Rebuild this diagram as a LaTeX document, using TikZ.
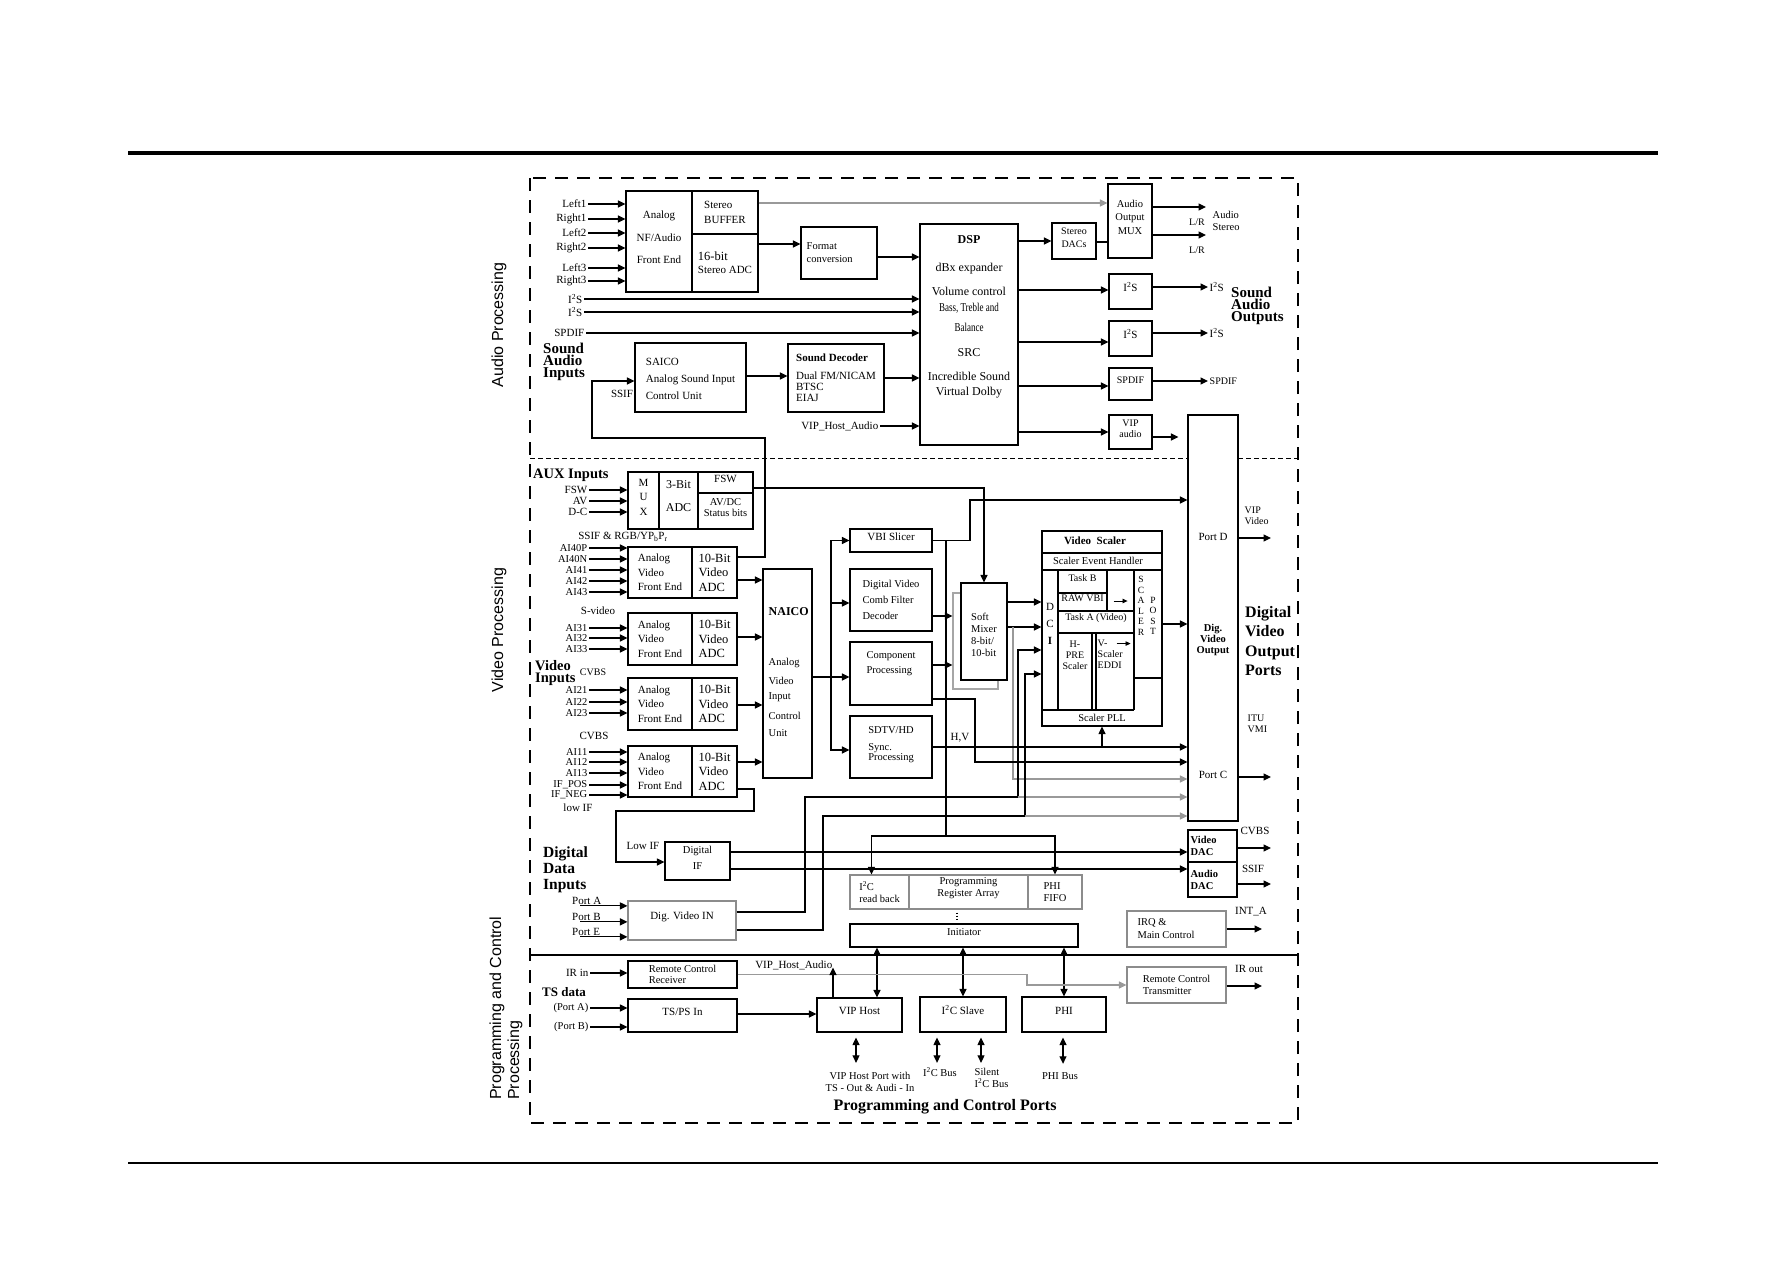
\documentclass[tikz,border=0pt]{standalone}
\usepackage{fontspec}
\setmainfont{Liberation Serif}
\newfontfamily\sansf{Liberation Sans}
\usepackage{graphicx}
\usetikzlibrary{arrows.meta,positioning,fit,calc}
\newcommand{\fz}[2]{\fontsize{#1}{#2}\selectfont}

\begin{document}
\begin{tikzpicture}[x=1pt, y=-1pt,
        box/.style={rectangle, draw=black, line width=1.1pt, inner sep=0pt, align=center, font=\fz{11}{13}},
        gbox/.style={box, draw=black!45},
        lbl/.style={inner sep=1.5pt, align=center, font=\fz{11}{12}},
        txt/.style={inner sep=0pt, align=left, font=\fz{11}{13}},
        boldlbl/.style={inner sep=0pt, align=left, font=\bfseries\fz{15}{12}},
        sidelbl/.style={inner sep=0pt, rotate=90, align=left, font=\sansf\fz{16}{18}},
        wire/.style={line width=1.1pt},
        arrow/.style={wire, -{Triangle[length=7.5pt, width=7pt]}},
        garrow/.style={arrow, draw=black!40},
        sarrow/.style={line width=0.8pt, -{Triangle[length=5pt, width=4.5pt]}},
        darrow/.style={wire, {Triangle[length=7.5pt, width=7pt]}-{Triangle[length=7.5pt, width=7pt]}}
    ]
    \useasboundingbox (0,0) rectangle (1787,1263);

    % Page rules and frame
    \draw[line width=3.4pt] (128,153) -- (1658,153);
    \draw[line width=1.2pt] (128,1163) -- (1658,1163);
    \draw[line width=1.2pt, dash pattern=on 13pt off 9pt] (530,178) rectangle (1298,1123);
    \draw[line width=1pt, dash pattern=on 5pt off 3pt] (530,458) -- (1188,458);
    \draw[line width=1pt, dash pattern=on 5pt off 3pt] (1238,458) -- (1298,458);
    \draw[wire] (530,955) -- (1298,955);

    % Section titles
    \node[sidelbl] (sideaudio) at (499,325) {Audio Processing};
    \node[sidelbl] (sidevideo) at (499,630) {Video Processing};
    \node[sidelbl, anchor=west] (sideprog) at (506,1100) {Programming and Control\\Processing};

    % ---------------- Audio ----------------
    \node[box, fit={(626,191) (692,292)}] (anf) {Analog\\[9.5pt]NF/Audio\\[9.5pt]Front End};
    \node[box, fit={(692,191) (758,234)}] (buf) {};
    \node[txt, font=\fz{11}{15}] (buftxt) at (buf.center) {Stereo\\BUFFER};
    \node[box, fit={(692,234) (758,292)}] (sadc) {};
    \node[txt] (sadctxt) at (sadc.center) {{\fz{12.5}{13}16-bit}\\Stereo ADC};
    \node[box, fit={(801,227) (877,279)}] (fmt) {};
    \node[txt, anchor=west, font=\fz{10.5}{13}] (fmttxt) at ([xshift=6]fmt.west) {Format\\conversion};
    \node[box, fit={(920,224) (1018,445)}] (dsp) {};
    \foreach \yy/\txt in {240/{\bfseries DSP}, 269/{dBx expander}, 291/{Volume control},
        308/{\scalebox{0.75}[1]{Bass, Treble and}}, 327/{\scalebox{0.75}[1]{Balance}},
        353/SRC, 376/{Incredible Sound}, 393/{Virtual Dolby}}
        \node[lbl, font=\fz{12}{13}] (dsp\yy) at (969,\yy) {\txt};
    \node[box, fit={(635,343) (746,412)}] (sai) {};
    \node[txt, font=\fz{11}{17}] (saitxt) at ([yshift=-1]sai.center) {SAICO\\Analog Sound Input\\Control Unit};
    \node[box, fit={(788,344) (884,412)}] (sdec) {};
    \node[txt, font=\fz{11}{11}] (sdectxt) at (sdec.center) {\textbf{Sound Decoder}\\[7pt]Dual FM/NICAM\\BTSC\\EIAJ};
    \node[boldlbl, anchor=west] (sndin) at (543,362) {Sound\\Audio\\Inputs};
    \node[lbl] (ssif) at (622,394) {SSIF};

    % audio inputs
    \foreach \nm/\yy/\txt in {la/204/Left1, ra/219/Right1, lb/233/Left2, rb/248/Right2, lc/268/Left3, rc/281/Right3}{
        \node[lbl, anchor=east] (\nm) at (588,\yy) {\txt};
        \draw[arrow] (\nm.east) -- (anf.west |- \nm.east);
    }
    \node[lbl, anchor=east] (i2sina) at (584,299) {I\textsuperscript{2}S};
    \node[lbl, anchor=east] (i2sinb) at (584,312) {I\textsuperscript{2}S};
    \node[lbl, anchor=east] (spdin) at (586,333) {SPDIF};
    \draw[arrow] (i2sina.east |- 0,299) -- (dsp.west |- 0,299);
    \draw[arrow] (i2sinb.east |- 0,312) -- (dsp.west |- 0,312);
    \draw[arrow] (spdin.east) -- (dsp.west |- spdin.east);

    \draw[arrow] (sadc.east |- 0,244) -- (fmt.west |- 0,244);
    \draw[arrow] (fmt.east |- 0,257) -- (dsp.west |- 0,257);
    \draw[arrow] (sai.east |- 0,376) -- (sdec.west |- 0,376);
    \draw[arrow] (sdec.east |- 0,378) -- (dsp.west |- 0,378);
    \node[lbl, anchor=east] (vhaud) at (880,426) {VIP\_Host\_Audio};
    \draw[arrow] (vhaud.east) -- (dsp.west |- vhaud.east);

    % audio outputs
    \node[box, fit={(1052,223) (1096,259)}, font=\fz{10}{13}] (sdac) {Stereo\\DACs};
    \node[box, fit={(1108,184) (1152,258)}, font=\fz{10.5}{13.5}] (mux) {Audio\\Output\\MUX};
    \node[box, fit={(1109,274) (1152,309)}] (i2sa) {I\textsuperscript{2}S};
    \node[box, fit={(1109,321) (1152,356)}] (i2sb) {I\textsuperscript{2}S};
    \node[box, fit={(1109,368) (1152,400)}, font=\fz{10}{12}] (spdo) {SPDIF};
    \node[box, fit={(1109,415) (1152,449)}, font=\fz{10}{10.5}] (vipa) {VIP\\audio};
    \node[box, fit={(1188,415) (1238,821)}] (dvo) {};
    \node[lbl] (portd) at (1213,537) {Port D};
    \node[lbl, font=\bfseries\fz{10.5}{11}] (dvotxt) at (1213,640) {Dig.\\Video\\Output};
    \node[lbl] (portc) at (1213,775) {Port C};

    \draw[garrow] (buf.east |- 0,203) -- (mux.west |- 0,203);
    \draw[arrow] (dsp.east |- 0,241) -- (sdac.west |- 0,241);
    \draw[wire] (sdac.east |- 0,242) -- (mux.west |- 0,242);
    \draw[arrow] (dsp.east |- 0,290) -- (i2sa.west |- 0,290);
    \draw[arrow] (dsp.east |- 0,342) -- (i2sb.west |- 0,342);
    \draw[arrow] (dsp.east |- 0,386) -- (spdo.west |- 0,386);
    \draw[arrow] (dsp.east |- 0,432) -- (vipa.west |- 0,432);
    \draw[arrow, shorten >=9pt] (vipa.east |- 0,437) -- (dvo.west |- 0,437);

    \coordinate (lra) at (1206,207);
    \coordinate (lrb) at (1206,235);
    \draw[arrow] (mux.east |- lra) -- (lra);
    \draw[arrow] (mux.east |- lrb) -- (lrb);
    \node[lbl, font=\fz{10}{11}] (lrla) at (1197,222) {L/R};
    \node[lbl, font=\fz{10}{11}] (lrlb) at (1197,250) {L/R};
    \node[lbl, anchor=west, align=left, font=\fz{10.5}{11.5}] (astereo) at (1211,221) {Audio\\Stereo};
    \node[lbl, anchor=west] (i2soa) at (1208,287) {I\textsuperscript{2}S};
    \node[lbl, anchor=west] (i2sob) at (1208,333) {I\textsuperscript{2}S};
    \node[lbl, anchor=west, font=\fz{10}{11}] (spdout) at (1208,381) {SPDIF};
    \draw[arrow] (i2sa.east |- 0,287) -- (i2soa.west |- 0,287);
    \draw[arrow] (i2sb.east |- 0,333) -- (i2sob.west |- 0,333);
    \draw[arrow] (spdo.east |- spdout.west) -- (spdout.west);
    \node[boldlbl, anchor=west] (sndout) at (1231,306) {Sound\\Audio\\Outputs};

    % ---------------- Video ----------------
    \node[boldlbl, anchor=west, font=\bfseries\fz{14.5}{14}] (auxin) at (533,475) {AUX Inputs};
    \node[box, fit={(628,472) (659,529)}, font=\fz{11}{14.5}] (muxm) {M\\U\\X};
    \node[box, fit={(659,472) (698,529)}, font=\fz{12}{13}] (adc3) {3-Bit\\[10pt]ADC};
    \node[box, fit={(698,472) (753,493)}] (fsw) {FSW};
    \node[box, fit={(698,493) (753,529)}, font=\fz{10.5}{11.5}] (avdc) {AV/DC\\Status bits};
    \foreach \nm/\yy/\txt in {auxa/490/FSW, auxb/501/AV, auxc/512/D-C}{
        \node[lbl, anchor=east] (\nm) at (589,\yy) {\txt};
        \draw[arrow] (\nm.east) -- (muxm.west |- \nm.east);
    }
    \node[lbl] (rgb) at (623,537) {SSIF \& RGB/YP\textsubscript{b}P\textsubscript{r}};

    % video front ends
    \foreach \i/\ya/\yb in {1/547/598, 2/613/665, 3/678/730, 4/746/797}{
        \node[box, fit={(628,\ya) (692,\yb)}] (vfe\i) {};
        \node[txt, font=\fz{11}{14.5}] (vfet\i) at (vfe\i.center) {Analog\\Video\\Front End};
        \node[box, fit={(692,\ya) (737,\yb)}] (vadc\i) {};
        \node[txt, font=\fz{12.5}{14.5}] (vadct\i) at (vadc\i.center) {10-Bit\\Video\\ADC};
    }
    \foreach \nm/\yy/\txt in {ina/548/AI40P, inb/559/AI40N, inc/570/AI41, ind/581/AI42, ine/592/AI43,
        inf/628/AI31, ing/638/AI32, inh/649/AI33, ini/690/AI21, inj/702/AI22, ink/713/AI23,
        inl/752/AI11, inm/762/AI12, inn/773/AI13, ino/785/IF\_POS, inp/795/IF\_NEG}{
        \node[lbl, anchor=east, font=\fz{10.5}{11}] (\nm) at (589,\yy) {\txt};
        \draw[arrow] (\nm.east) -- (vfe1.west |- \nm.east);
    }
    \node[lbl] (svid) at (598,611) {S-video};
    \node[boldlbl, anchor=west, font=\bfseries\fz{14.5}{12}] (vidin) at (535,673) {Video\\Inputs};
    \node[lbl, font=\fz{10}{11}] (cvbsa) at (593,672) {CVBS};
    \node[lbl] (cvbsb) at (594,736) {CVBS};
    \node[lbl] (lowif) at (578,808) {low IF};

    % NAICO
    \node[box, fit={(763,569) (812,778)}] (naico) {};
    \foreach \yy/\txt in {612/{\bfseries\fz{12}{13}NAICO}, 663/Analog, 681/Video, 697/Input, 716/Control, 733/Unit}
        \node[lbl, anchor=west, font=\fz{10.5}{12}] (nai\yy) at (767,\yy) {\txt};
    \draw[arrow] (vadc1.east |- 0,580) -- (naico.west |- 0,580);
    \draw[arrow] (vadc2.east |- 0,637) -- (naico.west |- 0,637);
    \draw[arrow] (vadc3.east |- 0,705) -- (naico.west |- 0,705);
    \draw[arrow] (vadc4.east |- 0,762) -- (naico.west |- 0,762);

    % SSIF back to SAICO
    \draw[arrow] (vadc1.east |- 0,557) -| (765,438) -| (592,381) -- (sai.west |- 0,381);

    % Digital IF and DACs
    \node[box, fit={(665,842) (730,880)}, font=\fz{10.5}{16}] (dif) {Digital\\IF};
    \node[lbl] (lowifb) at (643,846) {Low IF};
    \draw[arrow] (vadc4.east |- 0,789) -| (754,811) -| (616,862) -- (dif.west |- 0,862);
    \node[box, fit={(1188,830) (1237,862)}] (vdac) {};
    \node[txt, anchor=west, font=\bfseries\fz{10.5}{12}] (vdactxt) at ([xshift=3]vdac.west) {Video\\DAC};
    \node[box, fit={(1188,862) (1237,897)}] (adac) {};
    \node[txt, anchor=west, font=\bfseries\fz{10.5}{12}] (adactxt) at ([xshift=3]adac.west) {Audio\\DAC};
    \draw[arrow] (dif.east |- 0,852) -- (vdac.west |- 0,852);
    \draw[arrow] (dif.east |- 0,869) -- (adac.west |- 0,869);
    \coordinate (cvbso) at (1271,848);
    \coordinate (ssifo) at (1271,884);
    \draw[arrow] (vdac.east |- cvbso) -- (cvbso);
    \draw[arrow] (adac.east |- ssifo) -- (ssifo);
    \node[lbl] (cvbsl) at (1255,831) {CVBS};
    \node[lbl] (ssifl) at (1253,869) {SSIF};

    % Digital data inputs
    \node[boldlbl, anchor=west, font=\bfseries\fz{15.5}{16}] (ddin) at (543,870) {Digital\\Data\\Inputs};
    \node[gbox, fit={(628,901) (736,940)}] (dvin) {Dig. Video IN};
    \foreach \nm/\yy/\txt in {pta/901/Port A, ptb/917/Port B, pte/932/Port E}{
        \node[lbl, anchor=west, inner sep=0pt] (\nm) at (572,\yy) {\txt};
        \coordinate (\nm-s) at ($(\nm.south west)+(8,1)$);
        \draw[arrow] (\nm-s) -- (dvin.west |- \nm-s);
    }

    % VBI, comb filter, component, sync
    \node[box, fit={(850,529) (932,552)}] (vbi) {VBI Slicer};
    \node[box, fit={(850,569) (932,631)}] (comb) {};
    \node[txt, font=\fz{10.5}{16}] (combtxt) at (comb.center) {Digital Video\\Comb Filter\\Decoder};
    \node[box, fit={(850,642) (932,705)}] (comp) {};
    \node[txt, font=\fz{10.5}{15}] (comptxt) at (891,664) {Component\\Processing};
    \node[box, fit={(850,716) (932,778)}] (sdtv) {};
    \node[txt, font=\fz{10.5}{10.5}] (sdtvtxt) at ([yshift=2]sdtv.center) {SDTV/HD\\[6pt]Sync.\\Processing};
    \coordinate (vsplit) at (831,677);
    \draw[arrow] (naico.east |- vsplit) -- (comp.west |- vsplit);
    \draw[arrow] (vsplit) |- (vbi.west);
    \draw[arrow] (vsplit |- 0,603) -- (comb.west |- 0,603);
    \draw[arrow] (vsplit) |- (sdtv.west |- 0,750);

    % Soft mixer
    \node[box, draw=black!35, fit={(953,593) (998,689)}] (softo) {};
    \node[box, fill=white, fit={(961,583) (1007,680)}] (softi) {};
    \node[txt, font=\fz{10.5}{12}] (softtxt) at ([yshift=-3]softi.center) {Soft\\Mixer\\8-bit/\\10-bit};
    \draw[arrow] (comb.east |- 0,616) -- (softo.west |- 0,616);
    \draw[arrow] (comp.east |- 0,665) -- (softo.west |- 0,665);
    \draw[arrow] (fsw.east |- 0,488) -| (softi.north);

    % Video scaler
    \node[box, fit={(1042,531) (1162,726)}] (scaler) {};
    \node[lbl, font=\bfseries\fz{11}{12}] (scttl) at (1095,541) {Video\enspace Scaler};
    \draw[wire] (scaler.west |- 0,553) -- (scaler.east |- 0,553);
    \node[lbl, font=\fz{10.5}{12}] (seh) at (1098,561) {Scaler Event Handler};
    \draw[wire] (scaler.west |- 0,570) -- (scaler.east |- 0,570);
    \draw[wire] (1058,570) -- (1058,710);
    \draw[wire] (scaler.west |- 0,710) -- (1134,710);
    \draw[wire] (1134,570) -- (1134,710);
    \draw[wire] (1134,678) -- (scaler.east |- 0,678);
    \node[box, fit={(1058,570) (1107,593)}, font=\fz{10}{11}] (taskb) {Task B};
    \node[box, fit={(1058,593) (1107,611)}, font=\fz{10}{11}] (rawvbi) {RAW VBI};
    \node[box, fit={(1058,611) (1134,633)}, font=\fz{10}{11}] (taska) {Task A (Video)};
    \draw[wire] (1092,633) -- (1092,710);
    \draw[wire] (1096,633) -- (1096,710);
    \node[lbl, font=\fz{10}{11}] (hpre) at (1075,655) {H-\\PRE\\Scaler};
    \node[lbl, anchor=west, align=left, font=\fz{10}{11}] (vsc) at (1096,654) {V-\\Scaler\\EDDI};
    \draw[sarrow] ($(rawvbi.east)+(6,-1)$) -- ($(rawvbi.east)+(20,-1)$);
    \draw[sarrow] ($(taska.south east)+(-18,10)$) -- ($(taska.south east)+(-4,10)$);
    \node[lbl, font=\fz{9.5}{10.5}] (scl) at (1141,606) {S\\C\\A\\L\\E\\R};
    \node[lbl, font=\fz{9.5}{10.5}] (pst) at (1153,616) {P\\O\\S\\T};
    \node[lbl, font=\fz{11}{17}] (dci) at (1050,624) {D\\C\\\textbf{I}};
    \node[lbl, font=\fz{10.5}{12}] (spll) at (1102,718) {Scaler PLL};

    % into the scaler
    \draw[arrow] (softi.east |- 0,602) -- (scaler.west |- 0,602);
    \draw[arrow] (softi.east |- 0,627) -- (scaler.west |- 0,627);
    \coordinate (smj) at (1013,627);
    \draw[garrow] (smj) |- (dvo.west |- 0,779);
    \coordinate (dvja) at (1018,797);
    \coordinate (dvjb) at (1025,816);
    \draw[wire] (dvin.east |- 0,912) -| (805,797) -- (dvja);
    \draw[arrow] (dvja) |- (scaler.west |- 0,650);
    \draw[garrow] (dvja) -- (dvo.west |- dvja);
    \draw[wire] (dvin.east |- 0,930) -| (823,816) -- (dvjb);
    \draw[arrow] (dvjb) |- (scaler.west |- 0,674);
    \draw[garrow] (dvjb) -- (dvo.west |- dvjb);

    % to the video output ports
    \draw[arrow] (scaler.east |- 0,624) -- (dvo.west |- 0,624);
    \draw[arrow] (vbi.east) -| (970,500) -- (dvo.west |- 0,500);
    \draw[arrow] (comp.east |- 0,699) -| (975,762) -- (dvo.west |- 0,762);
    \draw[arrow] (sdtv.east) -- (dvo.west |- sdtv.east);
    \node[lbl] (hv) at (960,738) {H,V};
    \draw[arrow] (scaler.south |- sdtv.east) -- (scaler.south);
    \coordinate (portdo) at (1271,538);
    \coordinate (portco) at (1271,777);
    \draw[arrow] (dvo.east |- portdo) -- (portdo);
    \draw[arrow] (dvo.east |- portco) -- (portco);
    \node[lbl, anchor=west, align=left, font=\fz{10}{11}] (vipvid) at (1243,516) {VIP\\Video};
    \node[lbl, anchor=west, align=left, font=\fz{10}{11}] (ituvmi) at (1246,724) {ITU\\VMI};
    \node[boldlbl, anchor=west, font=\bfseries\fz{16}{19.5}] (dvop) at (1245,641) {Digital\\Video\\Output\\Ports};

    % Register array
    \node[gbox, fit={(850,875) (909,909)}] (i2crb) {};
    \node[txt, font=\fz{10.5}{12}] (i2crbtxt) at (i2crb.center) {I\textsuperscript{2}C\\read back};
    \node[gbox, fit={(909,875) (1028,909)}, font=\fz{10.5}{12}] (pra) {Programming\\Register Array};
    \node[gbox, fit={(1028,875) (1082,909)}] (phif) {};
    \node[txt, font=\fz{10.5}{12}] (phiftxt) at (phif.center) {PHI\\FIFO};
    \node[box, fit={(850,924) (1078,947)}, font=\fz{10.5}{12}] (init) {Initiator};
    \draw[wire, dotted, shorten <=3pt, shorten >=3pt] (pra.south -| 957,0) -- (init.north -| 957,0);
    \coordinate (vbidn) at (946,836);
    \draw[wire] (vbi.east -| vbidn) -- (vbidn);
    \draw[arrow] (vbidn) -| ($(i2crb.north west)+(22,0)$);
    \draw[arrow] (vbidn) -| (phif.north);

    \node[gbox, fit={(1127,911) (1226,947)}] (irq) {};
    \node[txt, anchor=west, font=\fz{10.5}{13}] (irqtxt) at ([xshift=11]irq.west) {IRQ \&\\Main Control};
    \coordinate (inta) at (1262,929);
    \draw[arrow] (irq.east |- inta) -- (inta);
    \node[lbl] (intal) at (1251,912) {INT\_A};

    % ---------------- Programming and control ----------------
    \node[box, fit={(628,961) (737,988)}] (rcr) {};
    \node[txt, font=\fz{10.5}{11.5}] (rcrtxt) at (rcr.center) {Remote Control\\Receiver};
    \node[lbl, anchor=east] (irin) at (590,973) {IR in};
    \draw[arrow] (irin.east) -- (rcr.west |- irin.east);
    \node[boldlbl, anchor=west, font=\bfseries\fz{13}{14}] (tsdata) at (542,992) {TS data};
    \node[box, fit={(628,999) (737,1032)}] (tsps) {TS/PS In};
    \node[lbl, anchor=east, font=\fz{10.5}{12}] (tpa) at (590,1008) {(Port A)};
    \node[lbl, anchor=east, font=\fz{10.5}{12}] (tpb) at (590,1027) {(Port B)};
    \draw[arrow] (tpa.east) -- (tsps.west |- tpa.east);
    \draw[arrow] (tpb.east) -- (tsps.west |- tpb.east);

    \node[box, fit={(817,998) (902,1032)}] (viph) {VIP Host};
    \node[box, fit={(920,997) (1006,1032)}] (i2cs) {I\textsuperscript{2}C Slave};
    \node[box, fit={(1022,997) (1106,1032)}] (phi) {PHI};
    \draw[arrow] (tsps.east |- 0,1014) -- (viph.west |- 0,1014);
    \draw[darrow] (init.south -| 877,0) -- (viph.north -| 877,0);
    \draw[darrow] (init.south -| i2cs.north) -- (i2cs.north);
    \draw[darrow] (init.south -| phi.north) -- (phi.north);

    \node[box, draw=black!45, fit={(1127,967) (1226,1003)}] (rct) {};
    \node[txt, font=\fz{10.5}{12}] (rcttxt) at (rct.center) {Remote Control\\Transmitter};
    \draw[garrow] (rcr.east) -- (rcr.east -| 1027,0) |- (rct.west);
    \node[lbl, anchor=east] (vhal) at (834,965) {VIP\_Host\_Audio};
    \draw[arrow] (viph.north -| 833,0) -- ($(rcr.east -| 833,0)+(0,-7)$);
    \coordinate (irout) at (1262,986);
    \draw[arrow] (rct.east |- irout) -- (irout);
    \node[lbl] (iroutl) at (1249,969) {IR out};

    % bus labels
    \node[lbl, font=\fz{10.5}{11.5}] (vhp) at (870,1082) {VIP Host Port with\\TS - Out \& Audi - In};
    \node[lbl, font=\fz{10.5}{11.5}] (i2cb) at (940,1072) {I\textsuperscript{2}C Bus};
    \node[lbl, anchor=west, align=left, font=\fz{10.5}{11.5}] (silent) at (973,1078) {Silent\\I\textsuperscript{2}C Bus};
    \node[lbl, font=\fz{10.5}{11.5}] (phib) at (1060,1076) {PHI Bus};
    \draw[darrow, shorten <=5pt, shorten >=8pt] (viph.south -| 856,0) -- (vhp.north -| 856,0);
    \draw[darrow, shorten <=5pt, shorten >=3pt] (i2cs.south -| 937,0) -- (i2cb.north -| 937,0);
    \draw[darrow, shorten <=5pt, shorten >=4pt] (i2cs.south -| 981,0) -- (silent.north -| 981,0);
    \draw[darrow, shorten <=5pt, shorten >=7pt] (phi.south -| 1063,0) -- (phib.north -| 1063,0);
    \node[lbl, font=\bfseries\fz{16}{17}] (pcp) at (945,1107) {Programming and Control Ports};

\end{tikzpicture}
\end{document}
